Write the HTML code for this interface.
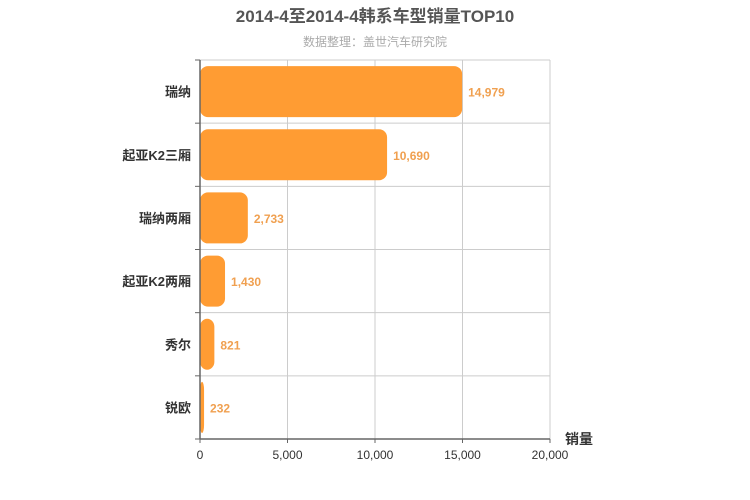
<!DOCTYPE html>
<html><head><meta charset="utf-8"><style>
body{margin:0;background:#fff;}
svg{display:block;font-family:"Liberation Sans","Noto Sans CJK SC",sans-serif;}
</style></head><body>
<svg id="chart" width="750" height="500">
<text x="375" y="22" text-anchor="middle" font-size="17" font-weight="bold" fill="#555">2014-4至2014-4韩系车型销量TOP10</text>
<text x="375" y="46" text-anchor="middle" font-size="12" fill="#aaa">数据整理：盖世汽车研究院</text>
<g id="grid"></g><g id="bars"></g><g id="axes"></g>
<text x="565" y="444" font-size="14" font-weight="bold" fill="#333">销量</text>
</svg>
<script>
const categories=["瑞纳","起亚K2三厢","瑞纳两厢","起亚K2两厢","秀尔","锐欧"];
const values=[14979,10690,2733,1430,821,232];
const ticks=[0,5000,10000,15000,20000];
const tickLabels=["0","5,000","10,000","15,000","20,000"];
const NS="http://www.w3.org/2000/svg";
const X0=200,X1=550,Y0=60,Y1=439,MAX=20000;
const xs=v=>X0+(v/MAX)*(X1-X0);
const band=(Y1-Y0)/categories.length;
function mk(t,a,p){const e=document.createElementNS(NS,t);for(const k in a)e.setAttribute(k,a[k]);p.appendChild(e);return e;}
const grid=document.getElementById('grid'),bars=document.getElementById('bars'),axes=document.getElementById('axes');
ticks.forEach((t,i)=>{
  const l=mk('line',{x1:xs(t),x2:xs(t),y1:Y0,y2:Y1,stroke:'#ccc'},grid);
  
  
  const tx=mk('text',{x:xs(t),y:Y1+20,'text-anchor':'middle','font-size':12,fill:'#333'},axes);
  tx.textContent=tickLabels[i];
  
  
  const tk=mk('line',{x1:xs(t),x2:xs(t),y1:Y1,y2:Y1+4,stroke:'#666'},axes);
  
  
});
mk('line',{x1:X0,x2:X1,y1:Y0,y2:Y0,stroke:'#ccc'},grid);
for(let i=0;i<=categories.length;i++){
  const y=Y0+i*band;
  const g=mk('line',{x1:X0,x2:X1,y1:y,y2:y,stroke:'#ccc'},grid);
  
  
  const tk=mk('line',{x1:X0-5,x2:X0,y1:y,y2:y,stroke:'#666'},axes);
  
  
}
categories.forEach((c,i)=>{
  const yc=Y0+band*(i+0.5);
  const r=mk('rect',{x:X0,y:yc-25.5,width:Math.max(xs(values[i])-X0,1),height:51,rx:8,ry:8,fill:'#ff9c33'},bars);
  
  
  const v=mk('text',{x:xs(values[i])+6,y:yc+5,'font-size':12,'font-weight':'bold',fill:'#f0a050'},bars);
  v.textContent=values[i].toLocaleString('en-US');
  
  
  const l=mk('text',{x:X0-9,y:yc+5,'text-anchor':'end','font-size':13,'font-weight':'bold',fill:'#333'},axes);
  l.textContent=c;
  
  
});
const ya=mk('line',{x1:X0,x2:X0,y1:Y0,y2:Y1,stroke:'#666','stroke-width':1.5},axes);


const xa=mk('line',{x1:X0,x2:X1,y1:Y1,y2:Y1,stroke:'#666','stroke-width':1.5},axes);


</script>
</body></html>
